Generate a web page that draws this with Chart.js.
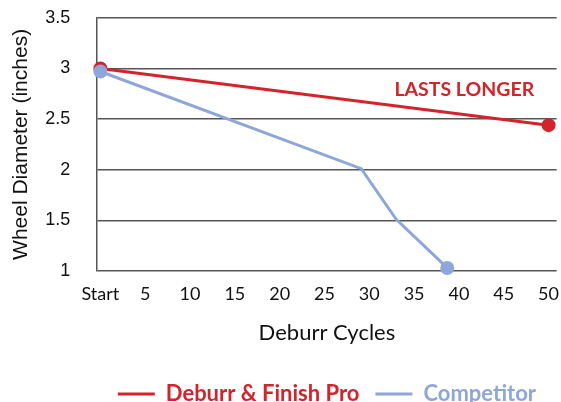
<!DOCTYPE html>
<html lang="en">
<head>
  <meta charset="UTF-8" />
  <title>Wheel Diameter vs Deburr Cycles</title>
  <script src="https://cdn.jsdelivr.net/npm/chart.js"></script>
  <style>
    html, body {
      margin: 0;
      padding: 0;
      background: #fff;
      overflow: hidden;
    }
    .chart-box {
      position: relative;
      width: 561px;
      height: 415px;
    }
  </style>
</head>
<body>
  <div class="chart-box"><canvas id="chart"></canvas></div>
<script>
    // x tick values and their labels
    const xTicks = [0, 5, 10, 15, 20, 25, 30, 35, 40, 45, 50];
    const xTickLabels = ['Start', '5', '10', '15', '20', '25', '30', '35', '40', '45', '50'];

    // Deburr & Finish Pro
    const proCycles = [0, 50];
    const proDiameter = [3.0, 2.44];

    // Competitor
    const compCycles = [0, 29.1, 33, 38.7];
    const compDiameter = [2.97, 2.01, 1.51, 1.03];

    const RED = '#d3232b';
    const BLUE = '#8ea6da';

    const note = { text: 'LASTS LONGER', x: 40.6, y: 2.79 };

    const toPoints = (xs, ys) => xs.map((x, i) => ({ x, y: ys[i] }));
    const endDots = (n, r) => Array.from({ length: n }, (_, i) => (i === 0 || i === n - 1) ? r : 0);

    const notePlugin = {
      id: 'note',
      afterDatasetsDraw(chart) {
        const { ctx, scales } = chart;
        ctx.save();
        ctx.font = 'bold 19.5px Lato';
        ctx.fillStyle = RED;
        ctx.textAlign = 'center';
        ctx.textBaseline = 'middle';
        ctx.fillText(note.text, scales.x.getPixelForValue(note.x), scales.y.getPixelForValue(note.y));
        ctx.restore();
      }
    };

    new Chart(document.getElementById('chart'), {
      type: 'line',
      data: {
        datasets: [{
          label: 'Deburr & Finish Pro',
          data: toPoints(proCycles, proDiameter),
          borderColor: RED,
          backgroundColor: RED,
          borderWidth: 3,
          pointRadius: endDots(proCycles.length, 5.5),
          pointHoverRadius: 0,
          clip: false,
          order: 1
        }, {
          label: 'Competitor',
          data: toPoints(compCycles, compDiameter),
          borderColor: BLUE,
          backgroundColor: BLUE,
          borderWidth: 3,
          pointRadius: endDots(compCycles.length, 5.5),
          pointHoverRadius: 0,
          clip: false,
          order: 0
        }]
      },
      options: {
        responsive: true,
        maintainAspectRatio: false,
        animation: false,
        layout: { autoPadding: false, padding: { top: 0, right: 0, left: 9, bottom: 0 } },
        scales: {
          x: {
            type: 'linear',
            min: -0.35,
            max: 50.9,
            afterBuildTicks: axis => { axis.ticks = xTicks.map(v => ({ value: v })); },
            grid: { color: 'transparent', drawOnChartArea: false, drawTicks: true, tickLength: 10, tickColor: 'transparent' },
            border: { display: false },
            ticks: {
              color: '#111',
              font: { family: 'Lato', size: 18 },
              padding: 2,
              autoSkip: false,
              maxRotation: 0,
              callback: v => xTickLabels[xTicks.indexOf(v)]
            },
            title: {
              display: true,
              text: 'Deburr Cycles',
              color: '#111',
              font: { family: 'Lato', size: 22 },
              padding: { top: 13, bottom: 21 }
            }
          },
          y: {
            min: 1,
            max: 3.5,
            grid: { color: '#555', lineWidth: 1.5, drawTicks: true, tickLength: 20, tickColor: 'transparent' },
            border: { display: true, color: '#555', width: 1.5 },
            ticks: {
              stepSize: 0.5,
              color: '#111',
              font: { family: 'Liberation Sans', size: 18 },
              padding: 7,
              callback: v => String(v)
            },
            title: {
              display: true,
              text: 'Wheel Diameter (inches)',
              color: '#111',
              font: { family: 'Liberation Sans', size: 21 },
              padding: { top: 0, bottom: 4 }
            }
          }
        },
        plugins: {
          tooltip: { enabled: false },
          legend: {
            position: 'bottom',
            fullSize: false,
            labels: {
              usePointStyle: true,
              pointStyle: 'line',
              pointStyleWidth: 37,
              padding: 16,
              font: { family: 'Lato', size: 22, weight: 'bold' },
              sort: (a, b) => a.datasetIndex - b.datasetIndex,
              generateLabels: chart => {
                const items = Chart.defaults.plugins.legend.labels.generateLabels(chart);
                items.forEach(it => {
                  const ds = chart.data.datasets[it.datasetIndex];
                  it.fontColor = ds.borderColor;
                  it.pointStyle = 'line';
                  it.lineWidth = 3;
                });
                return items;
              }
            }
          }
        }
      },
      plugins: [notePlugin]
    });
  </script>
</body>
</html>
